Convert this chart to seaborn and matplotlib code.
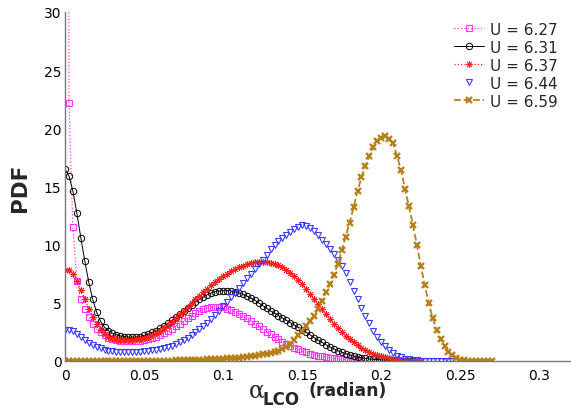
import numpy as np
import pandas as pd
import matplotlib
matplotlib.use("Agg")
import matplotlib.pyplot as plt
import seaborn as sns

# Sampling step of the angle grid (radian)
alpha_step = 0.0025

# PDF values on the grid alpha = k * alpha_step, k = 0, 1, 2, ...
pdf_u627 = [200.0, 22.2, 11.5, 6.85, 5.3, 4.5, 3.75, 3.2, 2.75, 2.45,
            2.2, 2.02, 1.9, 1.8, 1.74, 1.7, 1.68, 1.68, 1.7, 1.74,
            1.8, 1.88, 1.98, 2.1, 2.24, 2.4, 2.58, 2.78, 3.0, 3.22,
            3.45, 3.68, 3.9, 4.1, 4.28, 4.43, 4.55, 4.63, 4.66, 4.65,
            4.6, 4.5, 4.38, 4.23, 4.06, 3.87, 3.66, 3.44, 3.21, 2.98,
            2.75, 2.52, 2.3, 2.08, 1.87, 1.67, 1.48, 1.3, 1.14, 0.99,
            0.86, 0.74, 0.63, 0.54, 0.46, 0.39, 0.32, 0.27, 0.22, 0.18,
            0.15, 0.12, 0.09, 0.07, 0.05, 0.04]

pdf_u631 = [16.5, 15.9, 14.6, 12.7, 10.6, 8.6, 6.8, 5.3, 4.2, 3.4,
            2.9, 2.6, 2.4, 2.25, 2.15, 2.1, 2.05, 2.05, 2.05, 2.1,
            2.2, 2.3, 2.45, 2.6, 2.8, 3.0, 3.25, 3.5, 3.75, 4.0,
            4.3, 4.55, 4.8, 5.05, 5.3, 5.5, 5.7, 5.85, 5.95, 6.02,
            6.05, 6.05, 6.02, 5.95, 5.85, 5.73, 5.58, 5.42, 5.22, 5.0,
            4.77, 4.54, 4.3, 4.1, 3.9, 3.7, 3.5, 3.3, 3.1, 2.9,
            2.7, 2.48, 2.25, 2.02, 1.8, 1.6, 1.4, 1.22, 1.05, 0.9,
            0.75, 0.63, 0.52, 0.43, 0.35, 0.28, 0.23, 0.18, 0.15, 0.12,
            0.1, 0.08, 0.06, 0.05, 0.04, 0.03, 0.025, 0.02, 0.015]

pdf_u637 = [7.8, 7.85, 7.5, 6.9, 6.1, 5.3, 4.5, 3.8, 3.2, 2.7,
            2.35, 2.1, 1.95, 1.85, 1.8, 1.78, 1.78, 1.8, 1.85, 1.92,
            2.0, 2.1, 2.25, 2.42, 2.62, 2.85, 3.1, 3.38, 3.68, 4.0,
            4.32, 4.65, 4.98, 5.3, 5.62, 5.93, 6.23, 6.52, 6.8, 7.05,
            7.3, 7.52, 7.72, 7.9, 8.06, 8.2, 8.32, 8.42, 8.48, 8.52,
            8.52, 8.5, 8.44, 8.35, 8.22, 8.05, 7.85, 7.6, 7.3, 6.97,
            6.6, 6.2, 5.78, 5.35, 4.9, 4.45, 4.0, 3.57, 3.2, 2.85,
            2.5, 2.18, 1.88, 1.6, 1.36, 1.14, 0.95, 0.78, 0.63, 0.5,
            0.4, 0.31, 0.24, 0.18, 0.13, 0.09, 0.06, 0.04, 0.03, 0.02,
            0.01]

pdf_u644 = [2.65, 2.7, 2.55, 2.3, 2.05, 1.8, 1.58, 1.38, 1.22, 1.08,
            0.97, 0.88, 0.82, 0.78, 0.75, 0.74, 0.74, 0.75, 0.77, 0.8,
            0.84, 0.89, 0.95, 0.98, 1.02, 1.1, 1.2, 1.32, 1.45, 1.6,
            1.78, 1.98, 2.2, 2.45, 2.72, 3.0, 3.3, 3.63, 3.97, 4.33,
            4.7, 5.08, 5.47, 5.87, 6.3, 6.7, 7.1, 7.5, 7.9, 8.3,
            8.7, 9.15, 9.6, 9.95, 10.28, 10.58, 10.85, 11.1, 11.32, 11.52,
            11.7, 11.62, 11.42, 11.15, 10.82, 10.44, 10.02, 9.6, 9.18, 8.72,
            8.2, 7.55, 6.82, 6.06, 5.3, 4.58, 3.9, 3.24, 2.62, 2.1,
            1.65, 1.26, 0.94, 0.67, 0.46, 0.31, 0.21, 0.14, 0.09, 0.06,
            0.04, 0.03, 0.02, 0.015, 0.01, 0.008, 0.006, 0.004, 0.003, 0.002,
            0.001]

pdf_u659 = [0.01, 0.01, 0.01, 0.01, 0.01, 0.01, 0.01, 0.01, 0.01, 0.01,
            0.01, 0.01, 0.01, 0.01, 0.015, 0.015, 0.015, 0.015, 0.02, 0.02,
            0.02, 0.02, 0.025, 0.025, 0.03, 0.03, 0.035, 0.04, 0.05, 0.055,
            0.06, 0.07, 0.08, 0.09, 0.1, 0.115, 0.13, 0.145, 0.16, 0.18,
            0.2, 0.22, 0.24, 0.27, 0.3, 0.33, 0.36, 0.4, 0.45, 0.5,
            0.56, 0.63, 0.7, 0.78, 0.88, 1.0, 1.2, 1.45, 1.8, 2.2,
            2.6, 3.0, 3.4, 3.85, 4.5, 5.2, 5.9, 6.6, 7.4, 8.3,
            9.5, 10.7, 11.9, 13.2, 14.6, 15.8, 16.8, 17.6, 18.4, 18.9,
            19.2, 19.3, 19.1, 18.7, 17.6, 16.4, 14.8, 13.3, 11.7, 10.0,
            8.2, 6.5, 5.0, 3.7, 2.7, 1.9, 1.3, 0.8, 0.5, 0.25,
            0.12, 0.06, 0.03, 0.02, 0.01, 0.01, 0.005, 0.005, 0.005]

series_labels = ["U = 6.27", "U = 6.31", "U = 6.37", "U = 6.44", "U = 6.59"]
series_values = [pdf_u627, pdf_u631, pdf_u637, pdf_u644, pdf_u659]

x_ticks = [0, 0.05, 0.1, 0.15, 0.2, 0.25, 0.3]
x_tick_labels = ["0", "0.05", "0.1", "0.15", "0.2", "0.25", "0.3"]
y_ticks = [0, 5, 10, 15, 20, 25, 30]

styles = [
    dict(color="#ff33ff", marker="s", linestyle=":", linewidth=0.9,
         markersize=4.2, markerfacecolor="none", markeredgewidth=0.8),
    dict(color="#000000", marker="o", linestyle="-", linewidth=0.7,
         markersize=4.6, markerfacecolor="none", markeredgewidth=0.7),
    dict(color="#ff2020", marker=(8, 2, 0), linestyle=":", linewidth=0.9,
         markersize=5.0, markerfacecolor="none", markeredgewidth=0.7),
    dict(color="#3a3aff", marker="v", linestyle="none", linewidth=0.8,
         markersize=5.0, markerfacecolor="none", markeredgewidth=0.8),
    dict(color="#b8801a", marker="x", linestyle="--", linewidth=1.3,
         markersize=4.8, markerfacecolor="none", markeredgewidth=1.7,
         dashes=(4, 3)),
]

frames = []
for label, vals in zip(series_labels, series_values):
    frames.append(pd.DataFrame({
        "alpha": np.arange(len(vals)) * alpha_step,
        "pdf": vals,
        "U": label,
    }))
data = pd.concat(frames, ignore_index=True)

sns.set_theme(style="white")
plt.rcParams["font.family"] = ["DejaVu Sans"]

W, H = 571, 410
fig = plt.figure(figsize=(W / 100, H / 100), dpi=100)
ax = fig.add_axes([65 / W, 48 / H, 506 / W, 349 / H])

for label, style in zip(series_labels, styles):
    st = dict(style)
    col = st.pop("color")
    sub = data[data["U"] == label]
    sns.lineplot(data=sub, x="alpha", y="pdf", ax=ax, label=label,
                 color=col, markeredgecolor=col, estimator=None,
                 sort=False, **st)

ax.set_xlim(0, 0.32)
ax.set_ylim(0, 30)
ax.set_xticks(x_ticks)
ax.set_xticklabels(x_tick_labels)
ax.set_yticks(y_ticks)
ax.tick_params(direction="in", length=4, width=0.8, colors="#555555",
               labelcolor="black", labelsize=10)
ax.tick_params(axis="y", pad=2.5)
ax.tick_params(axis="x", pad=5)
for side in ("top", "right"):
    ax.spines[side].set_visible(False)
for side in ("left", "bottom"):
    ax.spines[side].set_color("#777777")
    ax.spines[side].set_linewidth(1.0)

ax.set_ylabel("PDF", fontsize=15.5, fontweight="bold", labelpad=10)
ax.set_xlabel("")

# x-axis label: Greek symbol, bold subscript, unit
fig.text(256.5 / W, 1 - 391 / H, "α", fontsize=17, family="DejaVu Serif",
         ha="center", va="center")
fig.text(263 / W, 1 - 400 / H, "LCO", fontsize=12, fontweight="bold",
         ha="left", va="center")
fig.text(308 / W, 1 - 391 / H, "(radian)", fontsize=12.4, fontweight="bold",
         ha="left", va="center")

leg = ax.legend(loc="upper right", bbox_to_anchor=(0.985, 0.99),
                frameon=False, fontsize=11, handlelength=2.0,
                handletextpad=0.35, labelspacing=0.2, borderaxespad=0)

fig.savefig("out.png", dpi=100)
